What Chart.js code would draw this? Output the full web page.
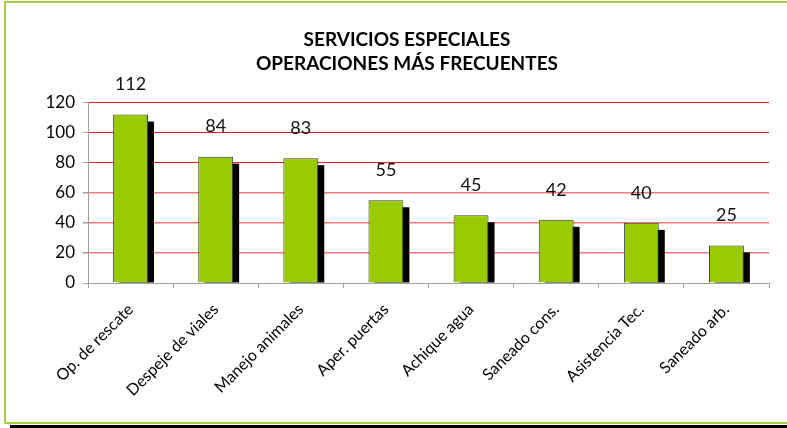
<!DOCTYPE html>
<html>
<head>
<meta charset="utf-8">
<script src="https://cdn.jsdelivr.net/npm/chart.js@4/dist/chart.umd.min.js"></script>
<style>
  html, body { margin: 0; padding: 0; background: #fff; }
  #wrap { position: relative; width: 787px; height: 428px; overflow: hidden; }
  #frame { position: absolute; left: 4px; top: 1px; width: 800px; height: 419px; border: 2px solid #a5d23a; }
  #shadow { position: absolute; left: 10px; top: 425px; width: 800px; height: 3px; background: #000; }
  canvas { position: absolute; left: 0; top: 0; }
</style>
</head>
<body>
<div id="wrap">
  <div id="frame"></div>
  <div id="shadow"></div>
  <canvas id="c" width="787" height="428"></canvas>
</div>
<script>
const categories = ['Op. de rescate', 'Despeje de viales', 'Manejo animales', 'Aper. puertas',
  'Achique agua', 'Saneado cons.', 'Asistencia Tec.', 'Saneado arb.'];
const operaciones = [112, 84, 83, 55, 45, 42, 40, 25];
const titleLines = ['SERVICIOS ESPECIALES', 'OPERACIONES MÁS FRECUENTES'];

const FONT = "Lato, 'Open Sans', sans-serif";

// black drop shadow behind each bar
const barShadow = {
  id: 'barShadow',
  beforeDatasetsDraw(chart) {
    const ctx = chart.ctx;
    ctx.save();
    ctx.fillStyle = '#000';
    chart.getDatasetMeta(0).data.forEach(bar => {
      const { x, y, base, width } = bar.getProps(['x', 'y', 'base', 'width'], true);
      ctx.fillRect(x - width / 2 + 6, y + 7, width, base - y - 7);
    });
    ctx.restore();
  }
};

// value labels above the bars
const valueLabels = {
  id: 'valueLabels',
  afterDatasetsDraw(chart) {
    const ctx = chart.ctx;
    const data = chart.data.datasets[0].data;
    ctx.save();
    ctx.font = `18px ${FONT}`;
    ctx.fillStyle = '#111';
    ctx.textAlign = 'center';
    ctx.textBaseline = 'middle';
    chart.getDatasetMeta(0).data.forEach((bar, i) => {
      ctx.fillText(String(data[i]), bar.x, bar.y - 30);
    });
    ctx.restore();
  }
};

new Chart(document.getElementById('c'), {
  type: 'bar',
  data: {
    labels: categories,
    datasets: [{
      data: operaciones,
      backgroundColor: '#99cc00',
      borderColor: '#3c3c3c',
      borderWidth: 1,
      categoryPercentage: 1,
      barPercentage: 0.41
    }]
  },
  options: {
    responsive: false,
    animation: false,
    layout: { padding: { left: 45, right: 18, top: 0, bottom: 25 } },
    plugins: {
      legend: { display: false },
      tooltip: { enabled: false },
      title: {
        display: true,
        text: titleLines,
        color: '#000',
        font: { family: FONT, size: 19, weight: 'bold', lineHeight: 1.25 },
        padding: { top: 28, bottom: 27 }
      }
    },
    scales: {
      x: {
        grid: { offset: true, drawOnChartArea: false, tickLength: 5, color: '#a0a0a0' },
        border: { color: '#a0a0a0' },
        ticks: {
          autoSkip: false, minRotation: 45, maxRotation: 45, padding: 12,
          color: '#000', font: { family: FONT, size: 16 }
        },
        afterFit(s) { s.height = 120; }
      },
      y: {
        min: 0, max: 120,
        ticks: { stepSize: 20, padding: 8, color: '#000', font: { family: FONT, size: 17 } },
        grid: {
          tickLength: 5,
          tickColor: '#a0a0a0',
          color: c => c.tick.value >= 80 ? '#e31b1b' : (c.tick.value > 0 ? '#f27a7a' : '#a0a0a0'),
          lineWidth: c => (c.tick.value > 0 && c.tick.value < 80) ? 1.5 : 1
        },
        border: { color: '#a0a0a0' },
        afterFit(s) { s.width = 43; }
      }
    }
  },
  plugins: [barShadow, valueLabels]
});
</script>
</body>
</html>
